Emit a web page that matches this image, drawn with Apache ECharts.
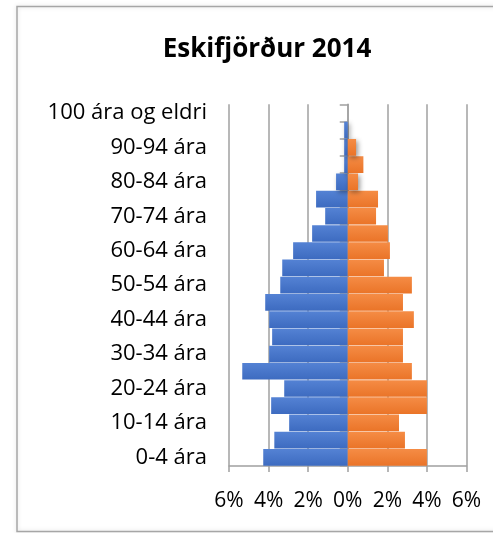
<!DOCTYPE html>
<html>
<head>
<meta charset="utf-8">
<script src="https://cdn.jsdelivr.net/npm/echarts@6/dist/echarts.min.js"></script>
<style>
  html, body { margin: 0; padding: 0; background: #fff; }
  #chart { width: 493px; height: 533px; }
</style>
</head>
<body>
<div id="chart"></div>
<script>
// age groups, bottom to top
const ageGroups = ['0-4 ára', '5-9 ára', '10-14 ára', '15-19 ára', '20-24 ára', '25-29 ára',
  '30-34 ára', '35-39 ára', '40-44 ára', '45-49 ára', '50-54 ára', '55-59 ára', '60-64 ára',
  '65-69 ára', '70-74 ára', '75-79 ára', '80-84 ára', '85-89 ára', '90-94 ára', '95-99 ára',
  '100 ára og eldri']
// share of population, %
const males = [4.27, 3.71, 2.96, 3.87, 3.21, 5.33, 3.97, 3.82, 3.97, 4.17, 3.41, 3.31, 2.76,
  1.80, 1.14, 1.60, 0.59, 0.18, 0.18, 0.18, 0]
const females = [4.0, 2.89, 2.59, 4.0, 4.0, 3.24, 2.79, 2.79, 3.34, 2.79, 3.24, 1.83, 2.13,
  2.03, 1.43, 1.53, 0.52, 0.79, 0.42, 0, 0]
const xTicks = [-6, -4, -2, 0, 2, 4, 6]

const font = '"Open Sans", Lato, sans-serif'
const gridColor = '#a0a0a0'
const shadow = {
  shadowColor: 'rgba(0,0,0,0.4)',
  shadowBlur: 5,
  shadowOffsetX: 2,
  shadowOffsetY: 2
}
const gridLeft = 229

let chart = echarts.init(document.getElementById('chart'))
let option = {
  animation: false,
  title: {
    text: 'Eskifjörður 2014',
    left: 262,
    top: 32,
    textAlign: 'center',
    textStyle: { fontFamily: font, fontSize: 26, fontWeight: 'bold', color: '#000' }
  },
  graphic: [{
    type: 'rect',
    shape: { x: 17, y: 6.5, width: 500, height: 525 },
    style: { fill: 'none', stroke: '#a6a6a6', lineWidth: 1.5, shadowColor: 'rgba(0,0,0,0.15)', shadowBlur: 4 }
  }],
  grid: { left: gridLeft, right: 26.5, top: 104.3, bottom: 67 },
  xAxis: {
    type: 'value',
    min: xTicks[0],
    max: xTicks[xTicks.length - 1],
    interval: 2,
    axisLine: { show: true, lineStyle: { color: gridColor, width: 1.5 } },
    axisTick: { show: true, length: 6, lineStyle: { color: gridColor, width: 1.5 } },
    splitLine: { show: true, lineStyle: { color: gridColor, width: 1.5 } },
    axisLabel: {
      margin: 25,
      fontFamily: font,
      fontSize: 21,
      color: '#000',
      formatter: v => Math.abs(v) + '%'
    }
  },
  yAxis: [{
    // labels at the left
    type: 'category',
    data: ageGroups,
    axisLine: { show: false, onZero: false },
    axisTick: { show: false },
    axisLabel: { interval: 1, margin: 22, fontFamily: font, fontSize: 22, color: '#000' }
  }, {
    // line and ticks at 0%
    type: 'category',
    data: ageGroups,
    position: 'left',
    offset: 0,
    axisLine: { show: true, onZero: false, lineStyle: { color: gridColor, width: 1.5 } },
    axisTick: { show: true, interval: 0, length: 8, lineStyle: { color: gridColor, width: 1.5 } },
    axisLabel: { show: false }
  }],
  series: [{
    name: 'Karlar',
    type: 'bar',
    data: males.map(v => -v),
    barGap: '-100%',
    barCategoryGap: '3%',
    itemStyle: Object.assign({
      color: new echarts.graphic.LinearGradient(0, 0, 0, 1, [
        { offset: 0, color: '#5482d4' },
        { offset: 1, color: '#3d6bc0' }
      ])
    }, shadow)
  }, {
    name: 'Konur',
    type: 'bar',
    data: females,
    barGap: '-100%',
    barCategoryGap: '3%',
    itemStyle: Object.assign({
      color: new echarts.graphic.LinearGradient(0, 0, 0, 1, [
        { offset: 0, color: '#f58c45' },
        { offset: 1, color: '#ea7428' }
      ])
    }, shadow)
  }]
}
chart.setOption(option)
// move the tick axis onto the 0% line
let zeroX = chart.convertToPixel({ xAxisIndex: 0 }, 0)
chart.setOption({ yAxis: [{}, { offset: gridLeft - zeroX }] })
</script>
</body>
</html>
